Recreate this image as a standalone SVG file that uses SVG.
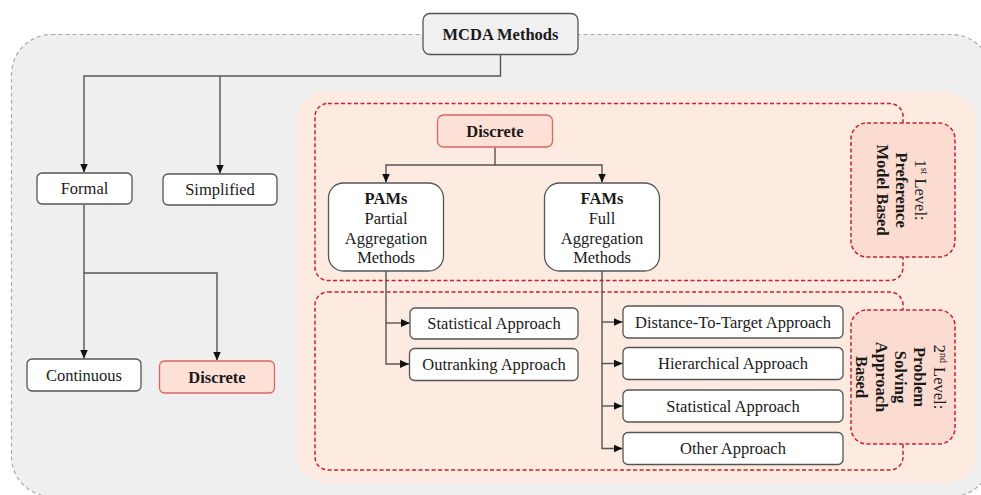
<svg xmlns="http://www.w3.org/2000/svg" width="981" height="495" viewBox="0 0 981 495">
  <style>
    text { font-family: "Liberation Serif", "Times New Roman", serif; font-size: 16.5px; fill: #1a1a1a; text-anchor: middle; }
    .b { font-weight: bold; }
    .box { fill: #ffffff; stroke: #555555; stroke-width: 1.3; }
    .hot { fill: #fde0d6; stroke: #e06464; stroke-width: 1.3; }
    .wire { fill: none; stroke: #555555; stroke-width: 1.4; }
    .lvl { fill: none; stroke: #cc1f2a; stroke-width: 1.5; stroke-dasharray: 4 2.5; }
    .lvlbox { fill: #fcdcd0; stroke: #cc1f2a; stroke-width: 1.5; stroke-dasharray: 4 2.5; }
  </style>
  <defs>
    <marker id="arrow" markerUnits="userSpaceOnUse" markerWidth="10" markerHeight="9" refX="9" refY="4" orient="auto">
      <path d="M0,0 L9,4 L0,8 z" fill="#111111"/>
    </marker>
  </defs>

  <!-- background regions -->
  <g id="regions">
    <rect x="11.5" y="34.5" width="980" height="462" rx="40" fill="#efefef" stroke="#a8a8a8" stroke-width="1.2" stroke-dasharray="4 3"/>
    <rect x="297" y="92" width="679" height="391" rx="30" fill="#fdeae0"/>
    <rect x="315" y="103.5" width="588" height="177" rx="13" class="lvl"/>
    <rect x="315" y="292" width="588" height="178" rx="13" class="lvl"/>
  </g>

  <!-- level labels -->
  <g id="level1">
    <rect x="851" y="123" width="104" height="134" rx="16" class="lvlbox"/>
    <g transform="translate(903,190) rotate(90)">
      <text y="-11.5">1<tspan font-size="10" dy="-6">st</tspan><tspan dy="6"> Level:</tspan></text>
      <text y="7" class="b">Preference</text>
      <text y="26.5" class="b">Model Based</text>
    </g>
  </g>
  <g id="level2">
    <rect x="851" y="310" width="104" height="134" rx="16" class="lvlbox"/>
    <g transform="translate(903,377) rotate(90)">
      <text y="-30.5">2<tspan font-size="10" dy="-6">nd</tspan><tspan dy="6"> Level:</tspan></text>
      <text y="-11.2" class="b">Problem</text>
      <text y="8.1" class="b">Solving</text>
      <text y="27.4" class="b">Approach</text>
      <text y="46.7" class="b">Based</text>
    </g>
  </g>

  <!-- connectors -->
  <g id="connectors">
    <path class="wire" d="M500.5,54.5 V76 H84 V172.5" marker-end="url(#arrow)"/>
    <path class="wire" d="M220,76 V173.5" marker-end="url(#arrow)"/>
    <path class="wire" d="M84,204.5 V358.5" marker-end="url(#arrow)"/>
    <path class="wire" d="M84,273 H217 V360.5" marker-end="url(#arrow)"/>
    <path class="wire" d="M495,147.5 V165 H386 V182.5" marker-end="url(#arrow)"/>
    <path class="wire" d="M495,165 H602 V182.5" marker-end="url(#arrow)"/>
    <path class="wire" d="M386,271 V364 H409" marker-end="url(#arrow)"/>
    <path class="wire" d="M386,323 H410" marker-end="url(#arrow)"/>
    <path class="wire" d="M602,271 V448.5 H622.5" marker-end="url(#arrow)"/>
    <path class="wire" d="M602,322 H622.5" marker-end="url(#arrow)"/>
    <path class="wire" d="M602,363.5 H622.5" marker-end="url(#arrow)"/>
    <path class="wire" d="M602,406 H622.5" marker-end="url(#arrow)"/>
  </g>

  <!-- nodes -->
  <g id="mcda">
    <rect x="423" y="13.5" width="155" height="41" rx="7" fill="#f0f0f0" stroke="#555555" stroke-width="1.3"/>
    <text x="500.5" y="39.5" class="b">MCDA Methods</text>
  </g>
  <g id="formal">
    <rect x="37" y="173" width="95" height="31" rx="5" class="box"/>
    <text x="84.5" y="194">Formal</text>
  </g>
  <g id="simplified">
    <rect x="163" y="174" width="114" height="31" rx="5" class="box"/>
    <text x="220" y="195">Simplified</text>
  </g>
  <g id="continuous">
    <rect x="27" y="359" width="114" height="32" rx="5" class="box"/>
    <text x="84" y="380.5">Continuous</text>
  </g>
  <g id="discrete-low">
    <rect x="159.5" y="361" width="115" height="32" rx="5" class="hot"/>
    <text x="217" y="382.5" class="b">Discrete</text>
  </g>
  <g id="discrete-top">
    <rect x="437.5" y="115" width="115" height="32" rx="6" class="hot"/>
    <text x="495" y="136.5" class="b">Discrete</text>
  </g>
  <g id="pams">
    <rect x="328.5" y="183" width="115" height="88" rx="15" class="box"/>
    <text x="386" y="204" class="b">PAMs</text>
    <text x="386" y="224">Partial</text>
    <text x="386" y="244">Aggregation</text>
    <text x="386" y="263">Methods</text>
  </g>
  <g id="fams">
    <rect x="544.5" y="183" width="115" height="88" rx="15" class="box"/>
    <text x="602" y="204" class="b">FAMs</text>
    <text x="602" y="224">Full</text>
    <text x="602" y="244">Aggregation</text>
    <text x="602" y="263">Methods</text>
  </g>
  <g id="pam-statistical">
    <rect x="410" y="308" width="168" height="31" rx="5" class="box"/>
    <text x="494" y="329">Statistical Approach</text>
  </g>
  <g id="pam-outranking">
    <rect x="409.5" y="348.5" width="168.5" height="32" rx="5" class="box"/>
    <text x="494" y="370">Outranking Approach</text>
  </g>
  <g id="fam-distance">
    <rect x="623" y="306" width="220" height="32" rx="5" class="box"/>
    <text x="733" y="327.5">Distance-To-Target Approach</text>
  </g>
  <g id="fam-hierarchical">
    <rect x="623" y="347.5" width="220" height="32" rx="5" class="box"/>
    <text x="733" y="369">Hierarchical Approach</text>
  </g>
  <g id="fam-statistical">
    <rect x="623" y="390" width="220" height="32" rx="5" class="box"/>
    <text x="733" y="411.5">Statistical Approach</text>
  </g>
  <g id="fam-other">
    <rect x="623" y="432.5" width="220" height="32" rx="5" class="box"/>
    <text x="733" y="454">Other Approach</text>
  </g>
</svg>
